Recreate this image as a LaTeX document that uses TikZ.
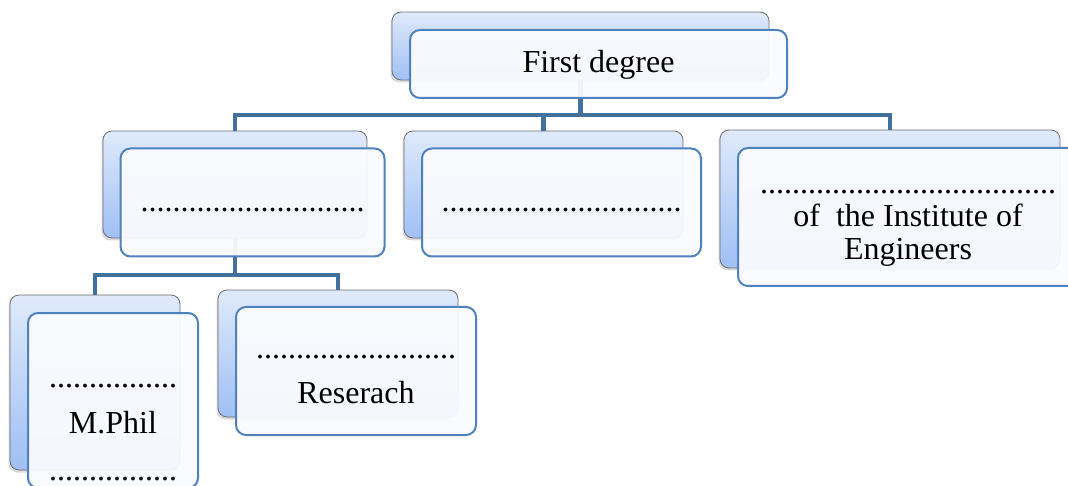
\documentclass[tikz,border=0pt]{standalone}
\usepackage{fontspec}
\setmainfont{Liberation Serif}
\usetikzlibrary{shadows}
\definecolor{conn}{HTML}{41719C}
\definecolor{frontline}{HTML}{4F81BD}
\definecolor{backtop}{HTML}{DFEAFB}
\definecolor{backbot}{HTML}{A0BFF4}
\definecolor{backline}{HTML}{6E6E6E}
\definecolor{frontfill}{HTML}{FAFBFE}
\tikzset{
  backbox/.style={rectangle, rounded corners=9pt, draw=backline, line width=0.8pt,
    top color=backtop, bottom color=backbot, inner sep=0pt,
    drop shadow={shadow xshift=-1.5pt, shadow yshift=-2.5pt, opacity=0.3}},
  frontbox/.style={rectangle, rounded corners=10pt, draw=frontline, line width=2pt,
    fill=frontfill, fill opacity=0.94, inner sep=0pt},
  conline/.style={draw=conn, line width=4.5pt},
  lbl/.style={anchor=base, inner sep=0pt, font=\fontsize{32}{36}\selectfont, text=black}
}
\begin{document}
\begin{tikzpicture}[x=1pt, y=-1pt]
\useasboundingbox (0,0) rectangle (1068,486);
% junction coordinates
\coordinate (j0) at (580.5,115);
\coordinate (j1) at (235,275);
% back boxes
\node[backbox, minimum width=377pt, minimum height=68pt] (b0) at (580.5,46) {};
\node[backbox, minimum width=264pt, minimum height=107pt] (b1) at (235,184.5) {};
\node[backbox, minimum width=279pt, minimum height=107pt] (b2) at (543.5,184.5) {};
\node[backbox, minimum width=340pt, minimum height=138pt] (b3) at (890,199) {};
\node[backbox, minimum width=170pt, minimum height=175pt] (b4) at (95,382.5) {};
\node[backbox, minimum width=240pt, minimum height=127pt] (b5) at (338,353.5) {};
% connectors
\draw[conline] (b0.south) -- (j0);
\draw[conline] (j0) -| (b1.north);
\draw[conline] (j0) -| (b2.north);
\draw[conline] (j0) -| (b3.north);
\draw[conline] (b1.south) -- (j1);
\draw[conline] (j1) -| (b4.north);
\draw[conline] (j1) -| (b5.north);
% front boxes
\node[frontbox, minimum width=377pt, minimum height=68pt] (f0) at (598.5,64) {};
\node[frontbox, minimum width=264pt, minimum height=108pt] (f1) at (252.5,202.5) {};
\node[frontbox, minimum width=279pt, minimum height=108pt] (f2) at (561.5,202.5) {};
\node[frontbox, minimum width=340pt, minimum height=138pt] (f3) at (908,217) {};
\node[frontbox, minimum width=170pt, minimum height=175pt] (f4) at (113,400.5) {};
\node[frontbox, minimum width=240pt, minimum height=128pt] (f5) at (356,371) {};
% texts
\node[lbl] (t0) at (598.5,73) {First degree};
\node[lbl] (d1) at (252.5,212) {............................};
\node[lbl] (d2) at (561.5,212) {..............................};
\node[lbl] (d3) at (908,194) {.....................................};
\node[lbl] (t3a) at (908,227) {of\ \ the Institute of};
\node[lbl] (t3b) at (908,260) {Engineers};
\node[lbl] (d4) at (113,387) {................};
\node[lbl] (t4) at (113,433) {M.Phil};
\node[lbl] (d4b) at (113,480) {................};
\node[lbl] (d5) at (356,358) {.........................};
\node[lbl] (t5) at (356,403) {Reserach};
\end{tikzpicture}
\end{document}
